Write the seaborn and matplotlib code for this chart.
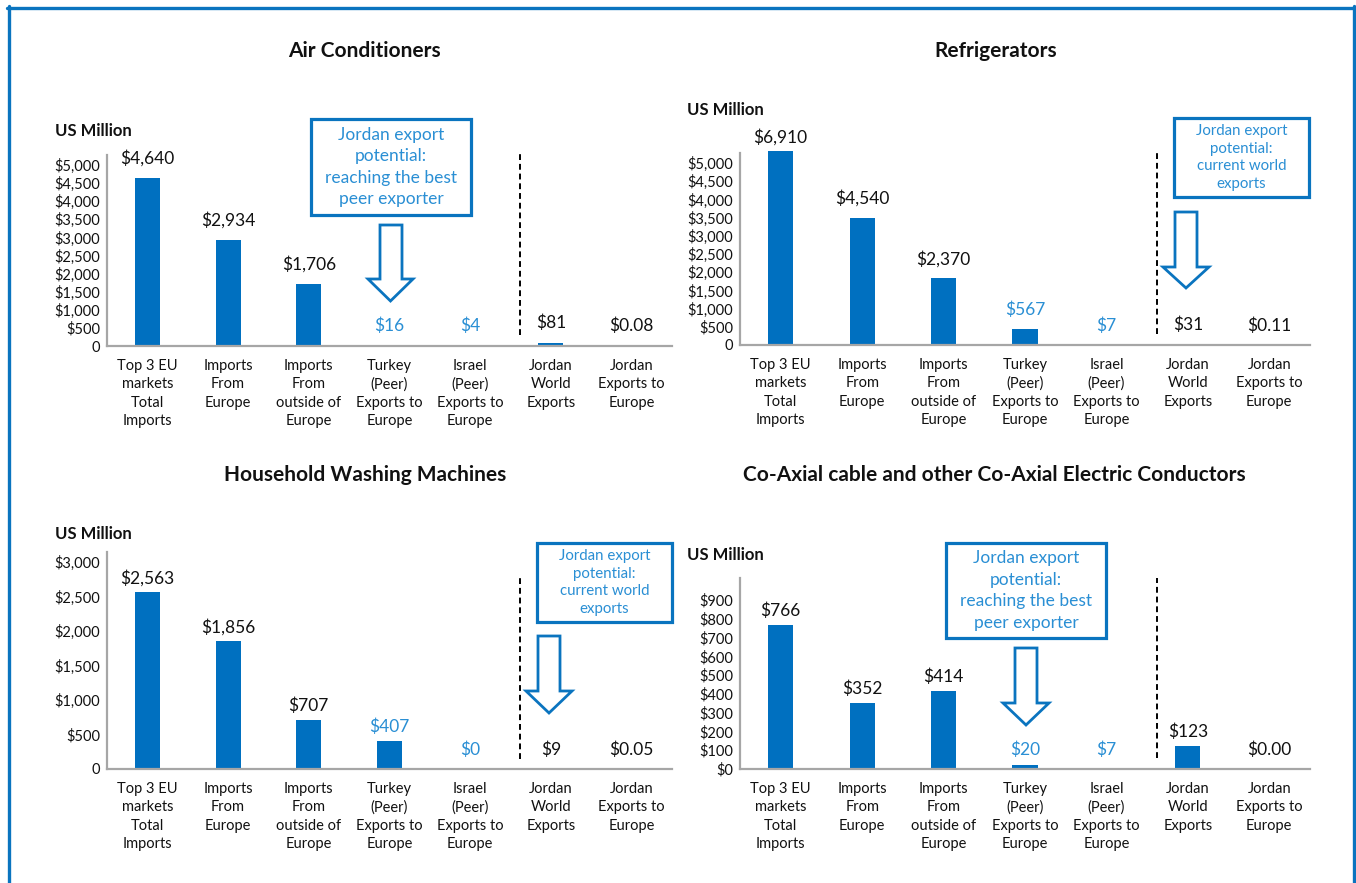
import matplotlib
matplotlib.use("Agg")
import matplotlib.pyplot as plt
import matplotlib.patches as mpatches
from matplotlib.lines import Line2D
import seaborn as sns
import pandas as pd

# ---------------- data ----------------
CATEGORIES = [
    "Top 3 EU\nmarkets\nTotal\nImports",
    "Imports\nFrom\nEurope",
    "Imports\nFrom\noutside of\nEurope",
    "Turkey\n(Peer)\nExports to\nEurope",
    "Israel\n(Peer)\nExports to\nEurope",
    "Jordan\nWorld\nExports",
    "Jordan\nExports to\nEurope",
]
PEER_IDX = [3, 4]

AC_TITLE = "Air Conditioners"
AC_VALUES = [4640, 2934, 1706, 16, 4, 81, 0.08]
AC_LABELS = ["$4,640", "$2,934", "$1,706", "$16", "$4", "$81", "$0.08"]
AC_TICKS = [0, 500, 1000, 1500, 2000, 2500, 3000, 3500, 4000, 4500, 5000]
AC_TICK_LABELS = ["0", "$500", "$1,000", "$1,500", "$2,000", "$2,500",
                  "$3,000", "$3,500", "$4,000", "$4,500", "$5,000"]

REF_TITLE = "Refrigerators"
REF_VALUES = [6910, 4540, 2370, 567, 7, 31, 0.11]
REF_LABELS = ["$6,910", "$4,540", "$2,370", "$567", "$7", "$31", "$0.11"]
REF_TICKS = [0, 500, 1000, 1500, 2000, 2500, 3000, 3500, 4000, 4500, 5000]
REF_TICK_LABELS = ["0", "$500", "$1,000", "$1,500", "$2,000", "$2,500",
                   "$3,000", "$3,500", "$4,000", "$4,500", "$5,000"]
REF_TICK_SCALE = 1.2964   # the source chart's axis labels are compressed vs. bar heights

WM_TITLE = "Household Washing Machines"
WM_VALUES = [2563, 1856, 707, 407, 0, 9, 0.05]
WM_LABELS = ["$2,563", "$1,856", "$707", "$407", "$0", "$9", "$0.05"]
WM_TICKS = [0, 500, 1000, 1500, 2000, 2500, 3000]
WM_TICK_LABELS = ["0", "$500", "$1,000", "$1,500", "$2,000", "$2,500", "$3,000"]

CX_TITLE = "Co-Axial cable and other Co-Axial Electric Conductors"
CX_VALUES = [766, 352, 414, 20, 7, 123, 0.00]
CX_LABELS = ["$766", "$352", "$414", "$20", "$7", "$123", "$0.00"]
CX_TICKS = [0, 100, 200, 300, 400, 500, 600, 700, 800, 900]
CX_TICK_LABELS = ["$0", "$100", "$200", "$300", "$400", "$500",
                  "$600", "$700", "$800", "$900"]

BOX_BEST = "Jordan export\npotential:\nreaching the best\npeer exporter"
BOX_WORLD = "Jordan export\npotential:\ncurrent world\nexports"
Y_UNIT = "US Million"

# ---------------- style ----------------
sns.set_theme(style="white")
plt.rcParams["font.family"] = ["Lato", "DejaVu Sans"]

BAR = "#0070C0"
PEER_TXT = "#2A8FD4"
FRAME = "#0A74BF"
SPINE = "#A6A6A6"
TXT = "#111111"

W, H = 1356, 883
fig = plt.figure(figsize=(W / 100, H / 100), dpi=100)
fig.patch.set_facecolor("white")


def fx(x):
    return x / W


def fy(y):
    return 1 - y / H


panels = [
    dict(title=AC_TITLE, vals=AC_VALUES, labs=AC_LABELS, ticks=AC_TICKS,
         tlabs=AC_TICK_LABELS, scale=1.0, rect=(107, 155, 672, 346), ytop=5276,
         title_xy=(364, 51), unit_xy=(55, 131), off=20, floor=19,
         dash=(0.058, 1.01),
         box=BOX_BEST, box_rect=(311, 119, 471, 215), box_fs=12.5, box_ls=1.42,
         arrow=(380, 402, 368, 413, 225, 279, 301)),
    dict(title=REF_TITLE, vals=REF_VALUES, labs=REF_LABELS, ticks=REF_TICKS,
         tlabs=REF_TICK_LABELS, scale=REF_TICK_SCALE, rect=(740, 153, 1310, 345),
         ytop=5275 * REF_TICK_SCALE,
         title_xy=(996, 51), unit_xy=(687, 110), off=19, floor=19,
         dash=(0.057, 1.0),
         box=BOX_WORLD, box_rect=(1174, 118, 1309, 197), box_fs=10.8, box_ls=1.31,
         arrow=(1175, 1197, 1163, 1209, 212, 267, 288)),
    dict(title=WM_TITLE, vals=WM_VALUES, labs=WM_LABELS, ticks=WM_TICKS,
         tlabs=WM_TICK_LABELS, scale=1.0, rect=(107, 552, 672, 769), ytop=3145,
         title_xy=(365, 475), unit_xy=(55, 534), off=14, floor=19,
         dash=(0.046, 0.88),
         box=BOX_WORLD, box_rect=(537, 543, 672, 622), box_fs=10.8, box_ls=1.31,
         arrow=(538, 560, 526, 572, 636, 691, 713)),
    dict(title=CX_TITLE, vals=CX_VALUES, labs=CX_LABELS, ticks=CX_TICKS,
         tlabs=CX_TICK_LABELS, scale=1.0, rect=(740, 578, 1310, 769), ytop=1017,
         title_xy=(994, 475), unit_xy=(687, 555), off=14, floor=19,
         dash=(0.058, 1.0),
         box=BOX_BEST, box_rect=(946, 543, 1106, 638), box_fs=12.5, box_ls=1.42,
         arrow=(1015, 1037, 1003, 1049, 648, 703, 725)),
]

for p in panels:
    l, t, r, b = p["rect"]
    ax = fig.add_axes([fx(l), fy(b), (r - l) / W, (b - t) / H])
    df = pd.DataFrame({"cat": CATEGORIES, "val": p["vals"]})
    sns.barplot(data=df, x="cat", y="val", color=BAR, saturation=1,
                width=0.31, ax=ax, errorbar=None)
    for patch in ax.patches:
        patch.set_clip_on(False)
        patch.set_linewidth(0)
    ax.set_xlim(-0.5, 6.5)
    ax.set_ylim(0, p["ytop"])
    ax.set_xlabel("")
    ax.set_ylabel("")
    ax.set_yticks([v * p["scale"] for v in p["ticks"]])
    ax.set_yticklabels(p["tlabs"], fontsize=10.5, color=TXT)
    ax.set_xticks(range(len(CATEGORIES)))
    ax.set_xticklabels(CATEGORIES, fontsize=10.5, color=TXT, linespacing=1.38,
                       va="top")
    ax.tick_params(axis="y", length=0, pad=5)
    ax.tick_params(axis="x", length=0, pad=9.5)
    for s in ["top", "right"]:
        ax.spines[s].set_visible(False)
    for s in ["left", "bottom"]:
        ax.spines[s].set_color(SPINE)
        ax.spines[s].set_linewidth(1.6)
    ax.set_facecolor("white")
    ax.grid(False)

    # value labels
    y0 = ax.transData.transform((0, 0))[1]
    for i, (v, lab) in enumerate(zip(p["vals"], p["labs"])):
        clipped = v > p["ytop"]
        vv = min(v, p["ytop"] * 1.01)
        hpx = ax.transData.transform((0, vv))[1] - y0
        off = 14 if clipped else max(p["off"], p["floor"] - hpx)
        ax.annotate(lab, xy=(i, vv), xytext=(0, off), textcoords="offset pixels",
                    ha="center", va="center", fontsize=12.5,
                    color=PEER_TXT if i in PEER_IDX else TXT,
                    annotation_clip=False)

    # dashed separator
    ax.axvline(4.62, ymin=p["dash"][0], ymax=p["dash"][1], color="black",
               lw=1.4, ls=(0, (3, 2)), clip_on=False)

    # titles and unit label
    fig.text(fx(p["title_xy"][0]), fy(p["title_xy"][1]), p["title"],
             ha="center", va="center", fontsize=15, fontweight="bold",
             color=TXT)
    fig.text(fx(p["unit_xy"][0]), fy(p["unit_xy"][1]), Y_UNIT,
             ha="left", va="center", fontsize=12, fontweight="bold",
             color=TXT)

    # callout box
    bl, bt, br, bb = p["box_rect"]
    fig.patches.append(mpatches.Rectangle(
        (fx(bl), fy(bb)), (br - bl) / W, (bb - bt) / H, transform=fig.transFigure,
        fill=False, edgecolor=FRAME, lw=2.3))
    fig.text(fx((bl + br) / 2), fy((bt + bb) / 2), p["box"], ha="center",
             va="center", fontsize=p["box_fs"], color=PEER_TXT,
             linespacing=p["box_ls"])

    # hollow down arrow
    sl, sr, hl, hr, top, hy, tip = p["arrow"]
    cx = (hl + hr) / 2
    pts = [(sl, top), (sr, top), (sr, hy), (hr, hy), (cx, tip), (hl, hy),
           (sl, hy)]
    fig.patches.append(mpatches.Polygon(
        [(fx(a), fy(c)) for a, c in pts], closed=True,
        transform=fig.transFigure, facecolor="white", edgecolor=FRAME, lw=2.0))

# outer frame (top, left, right)
for (x0, y0_, x1, y1) in [(7, 7.5, 1355, 7.5), (8.5, 6, 8.5, 883),
                          (1353.5, 6, 1353.5, 883)]:
    fig.lines.append(Line2D([fx(x0), fx(x1)], [fy(y0_), fy(y1)],
                            transform=fig.transFigure, color=FRAME, lw=2.4))

fig.savefig("out.png", dpi=100, facecolor="white")
